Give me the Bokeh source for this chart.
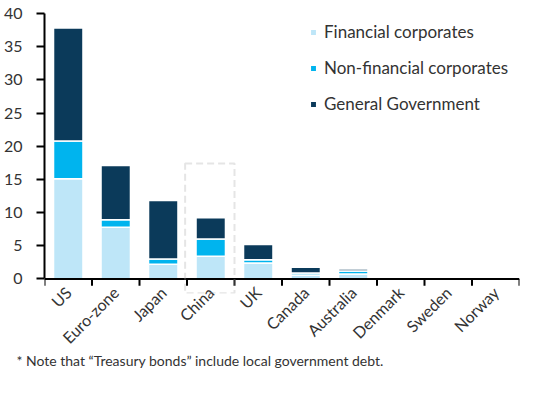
import numpy as np
from bokeh.plotting import figure
from bokeh.models import (ColumnDataSource, Range1d, FixedTicker, Legend, LegendItem,
                          BoxAnnotation, Title, Span)
from bokeh.embed import file_html
from bokeh.resources import INLINE

countries = ["US", "Euro-zone", "Japan", "China", "UK", "Canada", "Australia",
             "Denmark", "Sweden", "Norway"]
financial = [15.1, 7.8, 2.2, 3.4, 2.4, 0.6, 0.75, 0.05, 0.05, 0.03]
non_financial = [5.7, 1.1, 0.8, 2.6, 0.5, 0.3, 0.45, 0.03, 0.03, 0.03]
general_gov = [17.0, 8.2, 8.8, 3.2, 2.3, 0.85, 0.3, 0.03, 0.03, 0.03]
series_names = ["Financial corporates", "Non-financial corporates", "General Government"]
colors = ["#BEE6F8", "#00B4EE", "#0B3A5A"]
y_ticks = [0, 5, 10, 15, 20, 25, 30, 35, 40]
footnote = "* Note that \u201cTreasury bonds\u201d include local government debt."
highlight = "China"
highlight_top = 17.4

FONT = "Lato"
TXT = "#333333"
Y_MIN = -2.2  # room below zero for the highlight box

n = len(countries)
x = np.arange(n) + 0.5
src = ColumnDataSource(dict(x=x, fin=financial, nonfin=non_financial, gov=general_gov))

p = figure(width=534, height=372, output_backend="svg", toolbar_location=None,
           x_range=Range1d(0, n), y_range=Range1d(Y_MIN, 40),
           min_border_left=35, min_border_right=15, min_border_top=13, min_border_bottom=79)
p.outline_line_color = None
p.grid.grid_line_color = None

renderers = p.vbar_stack(["fin", "nonfin", "gov"], x="x", width=0.62, source=src,
                         fill_color=colors, line_color="white", line_width=1.5)

# x axis: labels only; axis line at zero + boundary ticks drawn in the frame
p.xaxis.ticker = FixedTicker(ticks=list(x))
p.xaxis.major_label_overrides = {float(v): c for v, c in zip(x, countries)}
p.xaxis.axis_line_color = None
p.xaxis.major_tick_line_color = None
p.xaxis.minor_tick_line_color = None
p.xaxis.major_label_orientation = np.pi / 4
p.xaxis.major_label_standoff = -10

p.add_layout(Span(location=0, dimension="width", line_color="black", line_width=2))
bounds = np.arange(n + 1)
tick_len = 1.05
p.segment(x0=bounds, y0=np.zeros(n + 1), x1=bounds, y1=np.full(n + 1, -tick_len),
          line_color="black", line_width=2)

p.yaxis.ticker = FixedTicker(ticks=y_ticks)
p.yaxis.bounds = (0, 40)
p.yaxis.minor_tick_line_color = None
p.yaxis.major_tick_out = 8
p.yaxis.major_tick_in = 0
p.yaxis.major_tick_line_width = 2
p.yaxis.major_tick_line_color = "black"
p.yaxis.axis_line_width = 2
p.yaxis.axis_line_color = "black"
p.yaxis.major_label_standoff = 14

for ax in (p.xaxis, p.yaxis):
    ax.major_label_text_font = FONT
    ax.major_label_text_font_size = "16px"
    ax.major_label_text_color = TXT

# highlight box around China
ci = countries.index(highlight)
box = BoxAnnotation(left=ci - 0.04, right=ci + 1.0, top=highlight_top, bottom=Y_MIN + 0.05,
                    fill_alpha=0, line_color="#aaaaaa", line_width=2, line_dash="7 4")
p.add_layout(box)

legend = Legend(items=[LegendItem(label=nm, renderers=[r]) for nm, r in zip(series_names, renderers)],
                location=(265, 179), padding=0, spacing=15, glyph_width=8, glyph_height=8,
                label_standoff=7, label_text_font=FONT, label_text_font_size="17px",
                label_text_color=TXT, border_line_color=None, background_fill_alpha=0)
p.add_layout(legend)

note = Title(text=footnote, align="left", text_font=FONT, text_font_size="14px",
             text_font_style="normal", text_color=TXT, offset=-28, standoff=-24)
p.add_layout(note, "below")

open("out.html", "w").write(file_html(p, INLINE))
